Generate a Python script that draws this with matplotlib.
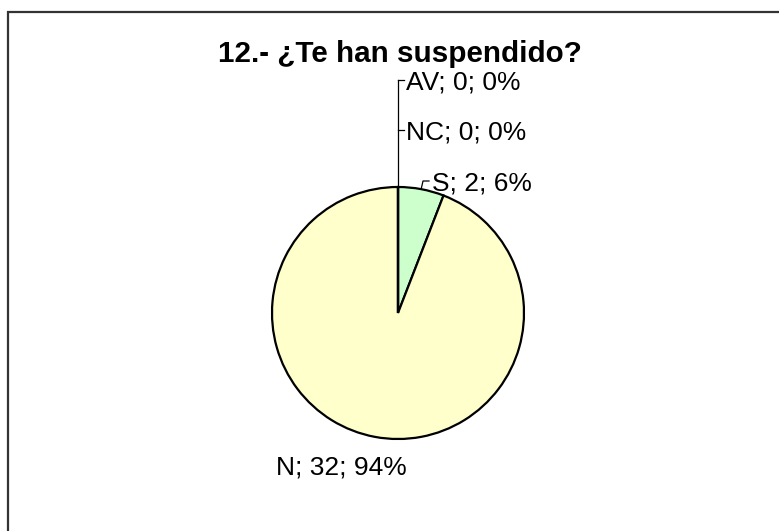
import matplotlib
matplotlib.use("Agg")
import matplotlib.pyplot as plt
from matplotlib.patches import Rectangle
import numpy as np

categories = ["S", "N", "NC", "AV"]
counts = [2, 32, 0, 0]
percents = ["6%", "94%", "0%", "0%"]
colors = ["#CCFFCC", "#FFFFCC", "#CCFFFF", "#FFCC99"]
title = "12.- ¿Te han suspendido?"

W, H = 779, 531
DPI = 100
fig = plt.figure(figsize=(W / DPI, H / DPI), dpi=DPI)
plt.rcParams['font.family'] = ['Liberation Sans', 'DejaVu Sans']

# outer frame (extends past right and bottom edges)
fig.patches.append(Rectangle((8 / W, -0.1), 1.2, 1 - 12 / H + 0.1,
                             transform=fig.transFigure, fill=False,
                             edgecolor='#333333', linewidth=1.6))

# axes mapped so 1 data unit = R pixels, pie center at (cx, cy)
R = 126.0
cx, cy = 398.0, 313.0
ax = fig.add_axes([0, 0, 1, 1])
ax.axis('off')

wedges, _ = ax.pie(counts, colors=colors, startangle=90, counterclock=False,
                   radius=1.0, wedgeprops=dict(edgecolor='black', linewidth=1.6))
ax.set_aspect('auto')
ax.set_xlim(-cx / R, (W - cx) / R)
ax.set_ylim(-(H - cy) / R, cy / R)

labels = [f"{c}; {v}; {p}" for c, v, p in zip(categories, counts, percents)]
fs = 19

def px2y(py):
    return (cy - py) / R

def px2x(px):
    return (px - cx) / R

# S label with elbow leader
w = wedges[0]
mid = np.deg2rad((w.theta1 + w.theta2) / 2)
rim = (np.cos(mid), np.sin(mid))
ys = px2y(181)
ax.plot([rim[0], px2x(423), px2x(429)], [rim[1], ys, ys], color='black', lw=0.9)
ax.text(px2x(432), ys, labels[0], fontsize=fs, ha='left', va='center_baseline')

# N label (no leader)
ax.text(px2x(341), px2y(465), labels[1], fontsize=fs, ha='center', va='center_baseline')

# NC and AV labels (zero slices at 12 o'clock)
top = (np.cos(np.deg2rad(wedges[3].theta1)), np.sin(np.deg2rad(wedges[3].theta1)))
y_nc = px2y(130)
y_av = px2y(80)
ax.plot([top[0], top[0]], [top[1], y_av], color='black', lw=0.9)
for yy, lab in [(y_nc, labels[2]), (y_av, labels[3])]:
    ax.plot([top[0], px2x(404)], [yy, yy], color='black', lw=0.9)
    ax.text(px2x(406), yy, lab, fontsize=fs, ha='left', va='center_baseline')

fig.text(400 / W, 1 - 62 / H, title, fontsize=21.3, fontweight='bold',
         ha='center', va='baseline')

fig.savefig("out.png", dpi=DPI)
